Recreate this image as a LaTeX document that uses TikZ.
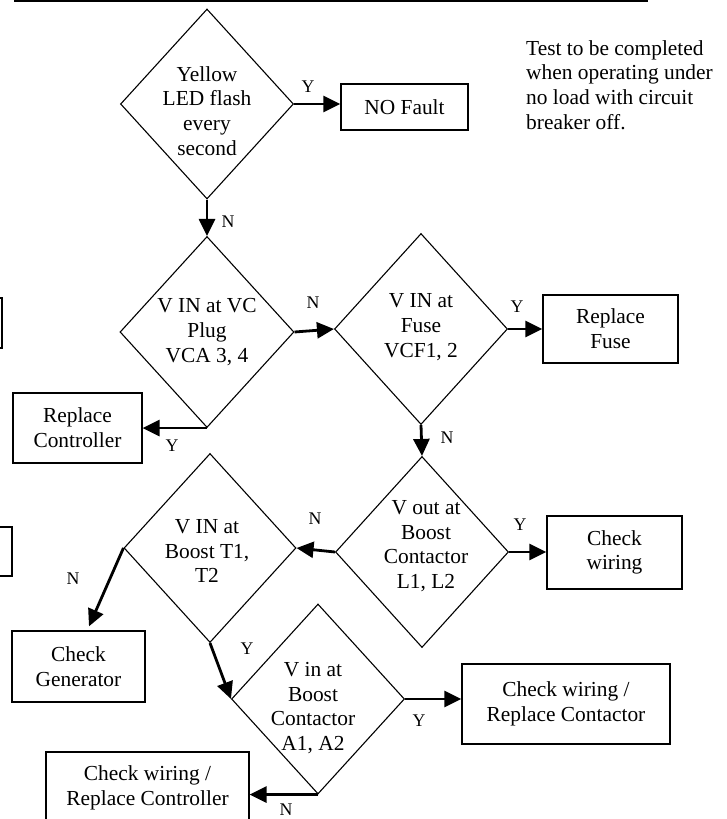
\documentclass[tikz,border=0pt]{standalone}
\usepackage{fontspec}
\setmainfont{Liberation Serif}
\usetikzlibrary{arrows.meta,shapes.geometric}
\newcommand\mainfnt{\fontsize{21.4}{24.7}\selectfont}
\newcommand\labfnt{\fontsize{17.8}{20}\selectfont}
\tikzset{
  dia/.style={draw, shape=diamond, inner sep=0pt, line width=1.1pt,
              minimum width=173pt, minimum height=190pt},
  box/.style={draw, line width=1.3pt, inner sep=0pt, align=center, font=\mainfnt},
  txt/.style={align=center, inner sep=0pt, font=\mainfnt},
  lab/.style={inner sep=0pt, font=\labfnt},
  arr/.style={line width=2.8pt, -{Triangle[length=17pt 0,width=16pt 0]}}
}
\begin{document}
\begin{tikzpicture}[x=1pt,y=-1pt]
\useasboundingbox (0,0) rectangle (727,819);

% top rule (underline of cut-off heading)
\draw[line width=2pt] (14,1) -- (648,1);

% partial boxes at the left edge
\draw[line width=1.3pt] (-60,298) rectangle (2,348);
\draw[line width=1.3pt] (-60,527) rectangle (12,576);

% decisions
\node[dia] (d1) at (207,104) {};
\node[dia, minimum width=174pt, minimum height=191pt] (d2) at (207,332) {};
\node[dia, minimum height=191pt] (d3) at (421,329) {};
\node[dia, minimum height=191pt] (d4) at (422,552) {};
\node[dia, minimum width=172pt, minimum height=189pt] (d5) at (210,548) {};
\node[dia] (d6) at (318,699) {};

\node[txt] (t1) at (207,111) {Yellow\\LED flash\\every\\second};
\node[txt] (t2) at (207,332) {V IN at VC\\Plug\\VCA 3, 4};
\node[txt] (t3) at (421,327) {V IN at\\Fuse\\VCF1, 2};
\node[txt] (t4) at (426,546) {V out at\\Boost\\Contactor\\L1, L2};
\node[txt] (t5) at (207,551) {V IN at\\Boost T1,\\T2};
\node[txt] (t6) at (313,708) {V in at\\Boost\\Contactor\\A1, A2};

% outcome boxes
\node[box, minimum width=127pt, minimum height=46pt] (nf) at (404.5,107) {NO Fault};
\node[box, minimum width=135pt, minimum height=68pt] (fuse) at (610.5,329) {Replace\\Fuse};
\node[box, minimum width=129pt, minimum height=70pt] (rctrl) at (77.5,428) {Replace\\Controller};
\node[box, minimum width=135pt, minimum height=73pt] (cw) at (614.5,552.5) {Check\\wiring};
\node[box, minimum width=133pt, minimum height=71pt] (gen) at (78.5,666.5) {Check\\Generator};
\node[box, minimum width=208pt, minimum height=80pt] (rcon) at (566,704) {Check wiring /\\Replace Contactor};
\node[box, minimum width=203pt, minimum height=72pt] (rctl) at (147.5,788) {Check wiring /\\Replace Controller};

% note
\node[txt, align=left, anchor=west] (note) at (526,85)
  {Test to be completed\\when operating under\\no load with circuit\\breaker off.};

% connectors
\draw[arr] (d1.east) -- (d1.east -| nf.west);
\draw[arr] (d1.south) -- (d2.north);
\draw[arr] (d2.east) -- (d3.west);
\draw[arr] (d3.east) -- (d3.east -| fuse.west);
\draw[arr] (d3.south) -- (d4.north);
\draw[arr] (d2.south) -- (d2.south -| rctrl.east);
\draw[arr] (d4.east) -- (d4.east -| cw.west);
\draw[arr] (d4.west) -- (d5.east);
\draw[arr] (d5.west) -- ([xshift=10.5pt,yshift=4pt]gen.north);
\draw[arr] (d5.south) -- (d6.west);
\draw[arr] (d6.east) -- (d6.east -| rcon.west);
\draw[arr] (d6.south) -- (d6.south -| rctl.east);

% branch labels
\node[lab] (y1) at (308,87) {Y};
\node[lab] (n1) at (228,222) {N};
\node[lab] (n2) at (313,303) {N};
\node[lab] (y2) at (517,307) {Y};
\node[lab] (n3) at (447,438) {N};
\node[lab] (y3) at (172,446) {Y};
\node[lab] (y4) at (520,525) {Y};
\node[lab] (n4) at (315,519) {N};
\node[lab] (n5) at (73,579) {N};
\node[lab] (y5) at (247,649) {Y};
\node[lab] (y6) at (419,721) {Y};
\node[lab] (n6) at (286,810) {N};
\end{tikzpicture}
\end{document}
